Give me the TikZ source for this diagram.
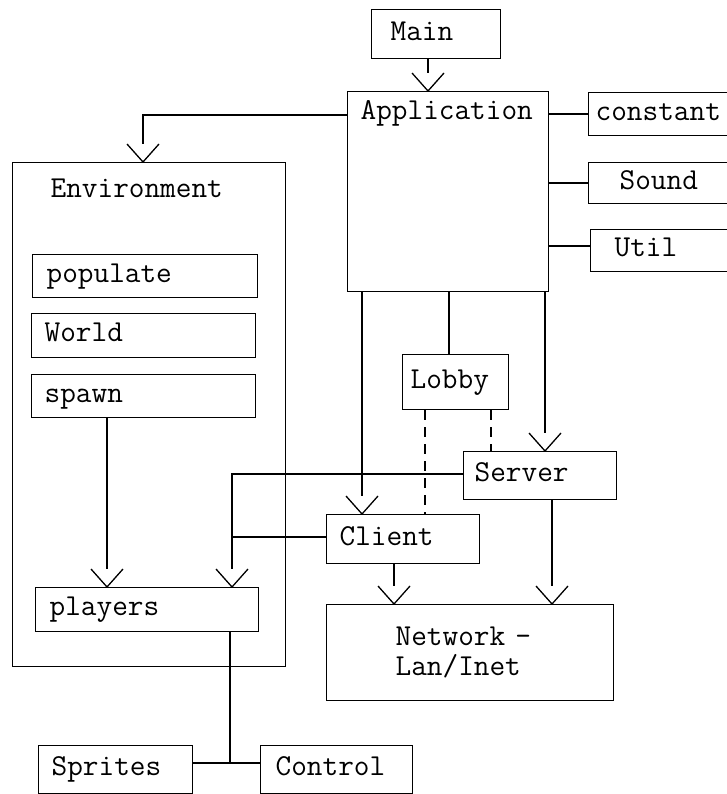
\documentclass[tikz,border=0pt]{standalone}
\usetikzlibrary{arrows.meta}

% offene Spitze: Linie endet am Ruecken der Spitze
\pgfdeclarearrow{
  name = OpenV,
  parameters = {\the\pgfarrowlength,\the\pgfarrowwidth},
  setup code = {
    \pgfarrowssettipend{0pt}
    \pgfarrowssetlineend{-\pgfarrowlength}
    \pgfarrowssetbackend{-\pgfarrowlength}
    \pgfarrowshullpoint{0pt}{0pt}
    \pgfarrowsupperhullpoint{-\pgfarrowlength}{.5\pgfarrowwidth}
    \pgfarrowssavethe\pgfarrowlength
    \pgfarrowssavethe\pgfarrowwidth
  },
  drawing code = {
    \pgfsetdash{}{0pt}
    \pgfpathmoveto{\pgfqpoint{-\pgfarrowlength}{.5\pgfarrowwidth}}
    \pgfpathlineto{\pgfpointorigin}
    \pgfpathlineto{\pgfqpoint{-\pgfarrowlength}{-.5\pgfarrowwidth}}
    \pgfusepathqstroke
  },
  defaults = {length = 18pt, width = 32pt}
}

\newcommand{\boxfont}{\fontsize{30.4}{29.5}\selectfont\ttfamily}

\begin{document}
\begin{tikzpicture}[
        x=1pt, y=-1pt,
        >={OpenV},
        line width=1.3pt,
        font=\boxfont,
        every node/.style={align=left},
        box/.style={draw, anchor=north west},
        boxsize/.style 2 args={minimum width=#1pt, minimum height=#2pt},
        txt/.style 2 args={inner xsep=#1pt, text width=#2pt, text height=17pt, text depth=5pt},
        title/.style={anchor=west, inner sep=0pt, text height=17pt, text depth=5pt},
        dep/.style={dash pattern=on 10pt off 7pt}
    ]

        \useasboundingbox (0,0) rectangle (727,794);

        % --- X-Positionen der senkrechten Linien ---
        \def\xMain{428}
        \def\xEnv{143}
        \def\xSpawn{107}
        \def\xJoin{232}
        \def\xToClient{362}
        \def\xToLobby{449}
        \def\xToServer{545}
        \def\xLobbyC{425}
        \def\xLobbyS{491}
        \def\xClientNet{394}
        \def\xServerNet{552}

        % --- Y-Positionen der waagerechten Linien ---
        \def\yEnvLine{115}
        \def\yUtil{246}
        \def\yServer{474}
        \def\yClient{537}

        % --- Oberer Teil ---
        \node[box, boxsize={129}{49}, txt={19}{91}] (main) at (371,9) {Main};
        \node[box, boxsize={201}{200}] (app) at (347,91) {};
        \node[title] (apptitle) at (360,114) {Application};

        % rechts von Application (laufen aus dem Bild)
        \node[box, boxsize={152}{43}, txt={7}{138}] (const) at (588,92) {constant};
        \node[box, boxsize={152}{41}, txt={31}{90}] (sound) at (588,162) {Sound};
        \node[box, boxsize={150}{42}, txt={24}{102}] (util) at (590,229) {Util};

        % --- Environment (links) ---
        \node[box, boxsize={273}{504}] (env) at (12,162) {};
        \node[title] (envtitle) at (50,192) {Environment};
        \node[box, boxsize={225}{43}, txt={14}{197}] (populate) at (32,254) {populate};
        \node[box, boxsize={224}{44}, txt={13}{198}] (world) at (31,313) {World};
        \node[box, boxsize={224}{43}, txt={13}{198}] (spawn) at (31,374) {spawn};
        \node[box, boxsize={223}{44}, txt={14}{195}] (players) at (35,587) {players};

        % --- Netzwerk-Teil ---
        \node[box, boxsize={106}{55}, txt={8}{90}] (lobby) at (402,354) {Lobby};
        \node[box, boxsize={153}{48}, txt={11}{131}] (server) at (463,451) {Server};
        \node[box, boxsize={153}{49}, txt={13}{127}] (client) at (326,514) {Client};
        \node[box, boxsize={287}{96}, inner xsep=69pt, text width=149pt] (net) at (326,604) {Network -\\Lan/Inet};

        % --- Unten ---
        \node[box, boxsize={154}{48}, txt={13}{128}] (sprites) at (38,745) {Sprites};
        \node[box, boxsize={152}{48}, txt={15}{122}] (control) at (260,745) {Control};
        \coordinate (jn) at (230,763);
        \coordinate (cj) at (\xJoin,\yClient);

        % --- Verbindungen ---
        \draw[->] (main.south -| \xMain,0) -- (app.north -| \xMain,0);
        \draw[->] (app.west |- 0,\yEnvLine) -| (env.north -| \xEnv,0);

        \draw (app.east |- const.west) -- (const.west);
        \draw (app.east |- sound.west) -- (sound.west);
        \draw (app.east |- 0,\yUtil) -- (util.west |- 0,\yUtil);

        \draw (app.south -| \xToLobby,0) -- (lobby.north -| \xToLobby,0);
        \draw[->] (app.south -| \xToClient,0) -- (client.north -| \xToClient,0);
        \draw[->] (app.south -| \xToServer,0) -- (server.north -| \xToServer,0);

        % Lobby (gestrichelt)
        \draw[dep] (lobby.south -| \xLobbyC,0) -- (client.north -| \xLobbyC,0);
        \draw[dep] (lobby.south -| \xLobbyS,0) -- (server.north -| \xLobbyS,0);

        % Server/Client -> players
        \draw[->] (server.west |- 0,\yServer) -| (players.north -| \xJoin,0);
        \draw (client.west |- cj) -- (cj);
        \draw[->] (spawn.south -| \xSpawn,0) -- (players.north -| \xSpawn,0);

        % -> Network
        \draw[->] (client.south -| \xClientNet,0) -- (net.north -| \xClientNet,0);
        \draw[->] (server.south -| \xServerNet,0) -- (net.north -| \xServerNet,0);

        % players -> Sprites, Control
        \draw (players.south -| jn) -- (jn);
        \draw (sprites.east |- jn) -- (control.west |- jn);

    \end{tikzpicture}
\end{document}
